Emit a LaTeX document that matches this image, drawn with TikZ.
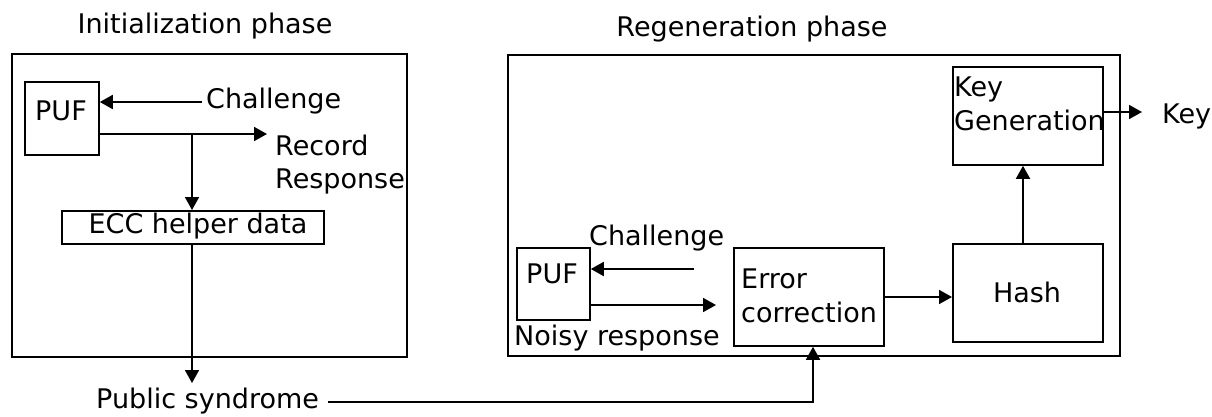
\documentclass[tikz,border=0pt]{standalone}
\usepackage{fontspec}
\setmainfont{DejaVu Sans}
\usetikzlibrary{arrows.meta}
\newcommand{\fs}{\fontsize{27}{33}\selectfont}
\tikzset{
  outer/.style={draw, line width=2.2pt, inner sep=0pt, anchor=north west},
  blk/.style={draw, line width=1.8pt, inner sep=0pt, anchor=north west},
  txt/.style={inner sep=0pt, font=\fs},
  arr/.style={line width=1.8pt, -{Triangle[length=13pt,width=14pt]}},
  ln/.style={line width=1.8pt}
}
\begin{document}
\begin{tikzpicture}[x=1pt,y=-1pt]
\useasboundingbox (0,0) rectangle (1212,416);
% titles
\node[txt, anchor=base] (t1) at (205,33) {Initialization phase};
\node[txt, anchor=base] (t2) at (752,36) {Regeneration phase};
% outer boxes
\node[outer, minimum width=395pt, minimum height=303pt] (L) at (11,53) {};
\node[outer, minimum width=612pt, minimum height=301pt] (R) at (507,54) {};
% left blocks
\node[blk, minimum width=74pt, minimum height=73pt] (puf1) at (24,81) {};
\node[txt, anchor=base] (puf1t) at (61,120) {PUF};
\node[blk, minimum width=262pt, minimum height=33pt] (ecc) at (61,210) {};
\node[txt, anchor=base] (ecct) at (198,233) {ECC helper data};
\node[txt, anchor=base west] (chal1) at (206,108) {Challenge};
\node[txt, anchor=base west] (rec) at (275,155) {Record};
\node[txt, anchor=base west] (resp) at (275,188) {Response};
\node[txt, anchor=base west] (pub) at (96,408) {Public syndrome};
% right blocks
\node[blk, minimum width=150pt, minimum height=98pt] (kg) at (952,66) {};
\node[txt, anchor=base west, align=left] (kgt1) at (954,96) {Key};
\node[txt, anchor=base west] (kgt2) at (954,130) {Generation};
\node[blk, minimum width=150pt, minimum height=98pt] (hash) at (952,243) {};
\node[txt, anchor=base] (hasht) at (1027,302) {Hash};
\node[blk, minimum width=150pt, minimum height=98pt] (ec) at (733,247) {};
\node[txt, anchor=base west] (ect1) at (741,288) {Error};
\node[txt, anchor=base west] (ect2) at (741,322) {correction};
\node[blk, minimum width=73pt, minimum height=72pt] (puf2) at (516,247) {};
\node[txt, anchor=base] (puf2t) at (552,283) {PUF};
\node[txt, anchor=base west] (chal2) at (589,245) {Challenge};
\node[txt, anchor=base west] (noisy) at (514,345) {Noisy response};
\node[txt, anchor=base west] (key) at (1162,123) {Key};
% coordinates
\coordinate (c1) at (202,102);
\coordinate (r1) at (267,134);
\coordinate (j1) at (192,134);
\coordinate (ps) at (192,383);
\coordinate (s1) at (328,402);
\coordinate (s2) at (813,402);
\coordinate (eh) at (883,297);
\coordinate (hk) at (1023,243);
\coordinate (ko) at (1142,112);
\coordinate (c2) at (694,269);
\coordinate (r2) at (716,305);
% connectors
\draw[arr] (c1) -- (c1 -| puf1.east);
\draw[arr] (r1 -| puf1.east) -- (r1);
\draw[arr] (j1) -- (j1 |- ecc.north);
\draw[arr] (j1 |- ecc.south) -- (ps);
\draw[arr] (s1) -- (s2) -- (s2 |- ec.south);
\draw[arr] (eh -| ec.east) -- (eh -| hash.west);
\draw[arr] (hk |- hash.north) -- (hk |- kg.south);
\draw[arr] (ko -| kg.east) -- (ko);
\draw[arr] (c2) -- (c2 -| puf2.east);
\draw[arr] (r2 -| puf2.east) -- (r2);
\end{tikzpicture}
\end{document}
